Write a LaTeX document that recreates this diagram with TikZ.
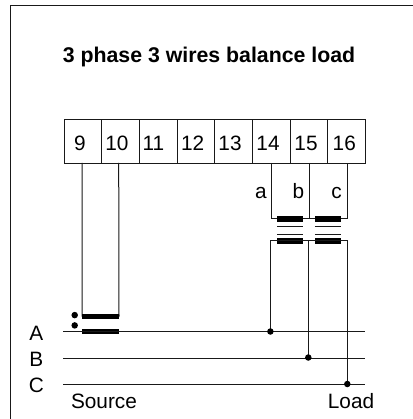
\documentclass[tikz,border=0pt]{standalone}
\usepackage{fontspec}
\setmainfont{Liberation Sans}
\tikzset{
  px/.style={x=1pt,y=-1pt},
  wire/.style={line width=1pt,draw=black!90},
  term/.style={draw=black!90,line width=1pt,minimum width=37.7pt,minimum height=43.7pt,inner sep=0pt,anchor=north west},
  lbl/.style={inner sep=0pt,anchor=base,font=\fontsize{20.8}{24}\selectfont},
  bar/.style={fill=black,draw=none},
  dot/.style={circle,fill=black,inner sep=0pt,minimum size=6.5pt},
  thinl/.style={line width=1pt,draw=black!90}
}
\begin{document}
\begin{tikzpicture}[px]
\useasboundingbox (0,0) rectangle (412,419);
\draw[wire] (10.5,424) -- (10.5,5.5) -- (417,5.5);
\node[lbl,font=\bfseries\fontsize{21.3}{26}\selectfont] (title) at (209,62.3) {3 phase 3 wires balance load};
\foreach \n/\x/\c in {9/63.5/80,10/101.2/117,11/138.9/153.5,12/176.6/192.7,13/214.3/230,14/252/268,15/289.7/306,16/327.4/344.3}{
  \node[term] (t\n) at (\x,119.5) {};
  \node[lbl] (n\n) at (\c,150.7) {\n};
}
\coordinate (w9) at (82,163);
\coordinate (w10) at (118.7,163);
\coordinate (w14) at (271.9,163);
\coordinate (w15) at (309.6,163);
\coordinate (w16) at (347.2,163);
\node[lbl] (la) at (261,198.3) {a};
\node[lbl] (lb) at (298.5,198.3) {b};
\node[lbl] (lc) at (336.5,198.3) {c};
% source CT
\draw[wire] (w9) -- (82,316) -- (119,316) -- (w10);
\fill[bar] (82,314.3) rectangle (119.3,318.8);
\fill[bar] (82,329.2) rectangle (119.3,334.2);
\node[dot] (d1) at (74.7,315.1) {};
\node[dot] (d2) at (74.7,325.4) {};
% lines
\coordinate (Ae) at (365,331.7);
\coordinate (Be) at (365,358);
\coordinate (Ce) at (365,384.5);
\draw[wire] (63,331.7) -- (Ae);
\draw[wire] (63,358) -- (Be);
\draw[wire] (63,384.5) -- (Ce);
\node[lbl] (A) at (36.3,340.8) {A};
\node[lbl] (B) at (36.3,366.3) {B};
\node[lbl] (C) at (36.3,392.4) {C};
\node[lbl] (src) at (104,408.5) {Source};
\node[lbl] (load) at (351,408.5) {Load};
% CTs
\draw[wire] (w14) -- (271.9,218.6) -- (347.2,218.6) -- (w16);
\draw[wire] (w15) -- (309.6,218.6);
\foreach \x in {277,314.8}{
  \fill[bar] (\x,216) rectangle (\x+26.3,222);
  \fill[bar] (\x,238) rectangle (\x+26.3,243.8);
  \draw[thinl] (\x,226.4) -- (\x+26.3,226.4);
  \draw[thinl] (\x,234) -- (\x+26.3,234);
}
\draw[wire] (270.7,331.7) -- (270.7,240.8) -- (347.3,240.8) -- (347.3,384.5);
\draw[wire] (308,240.8) -- (308,357);
\node[dot] (j1) at (270.4,331.5) {};
\node[dot] (j2) at (308.3,357.5) {};
\node[dot] (j3) at (347.3,384) {};
\end{tikzpicture}
\end{document}
